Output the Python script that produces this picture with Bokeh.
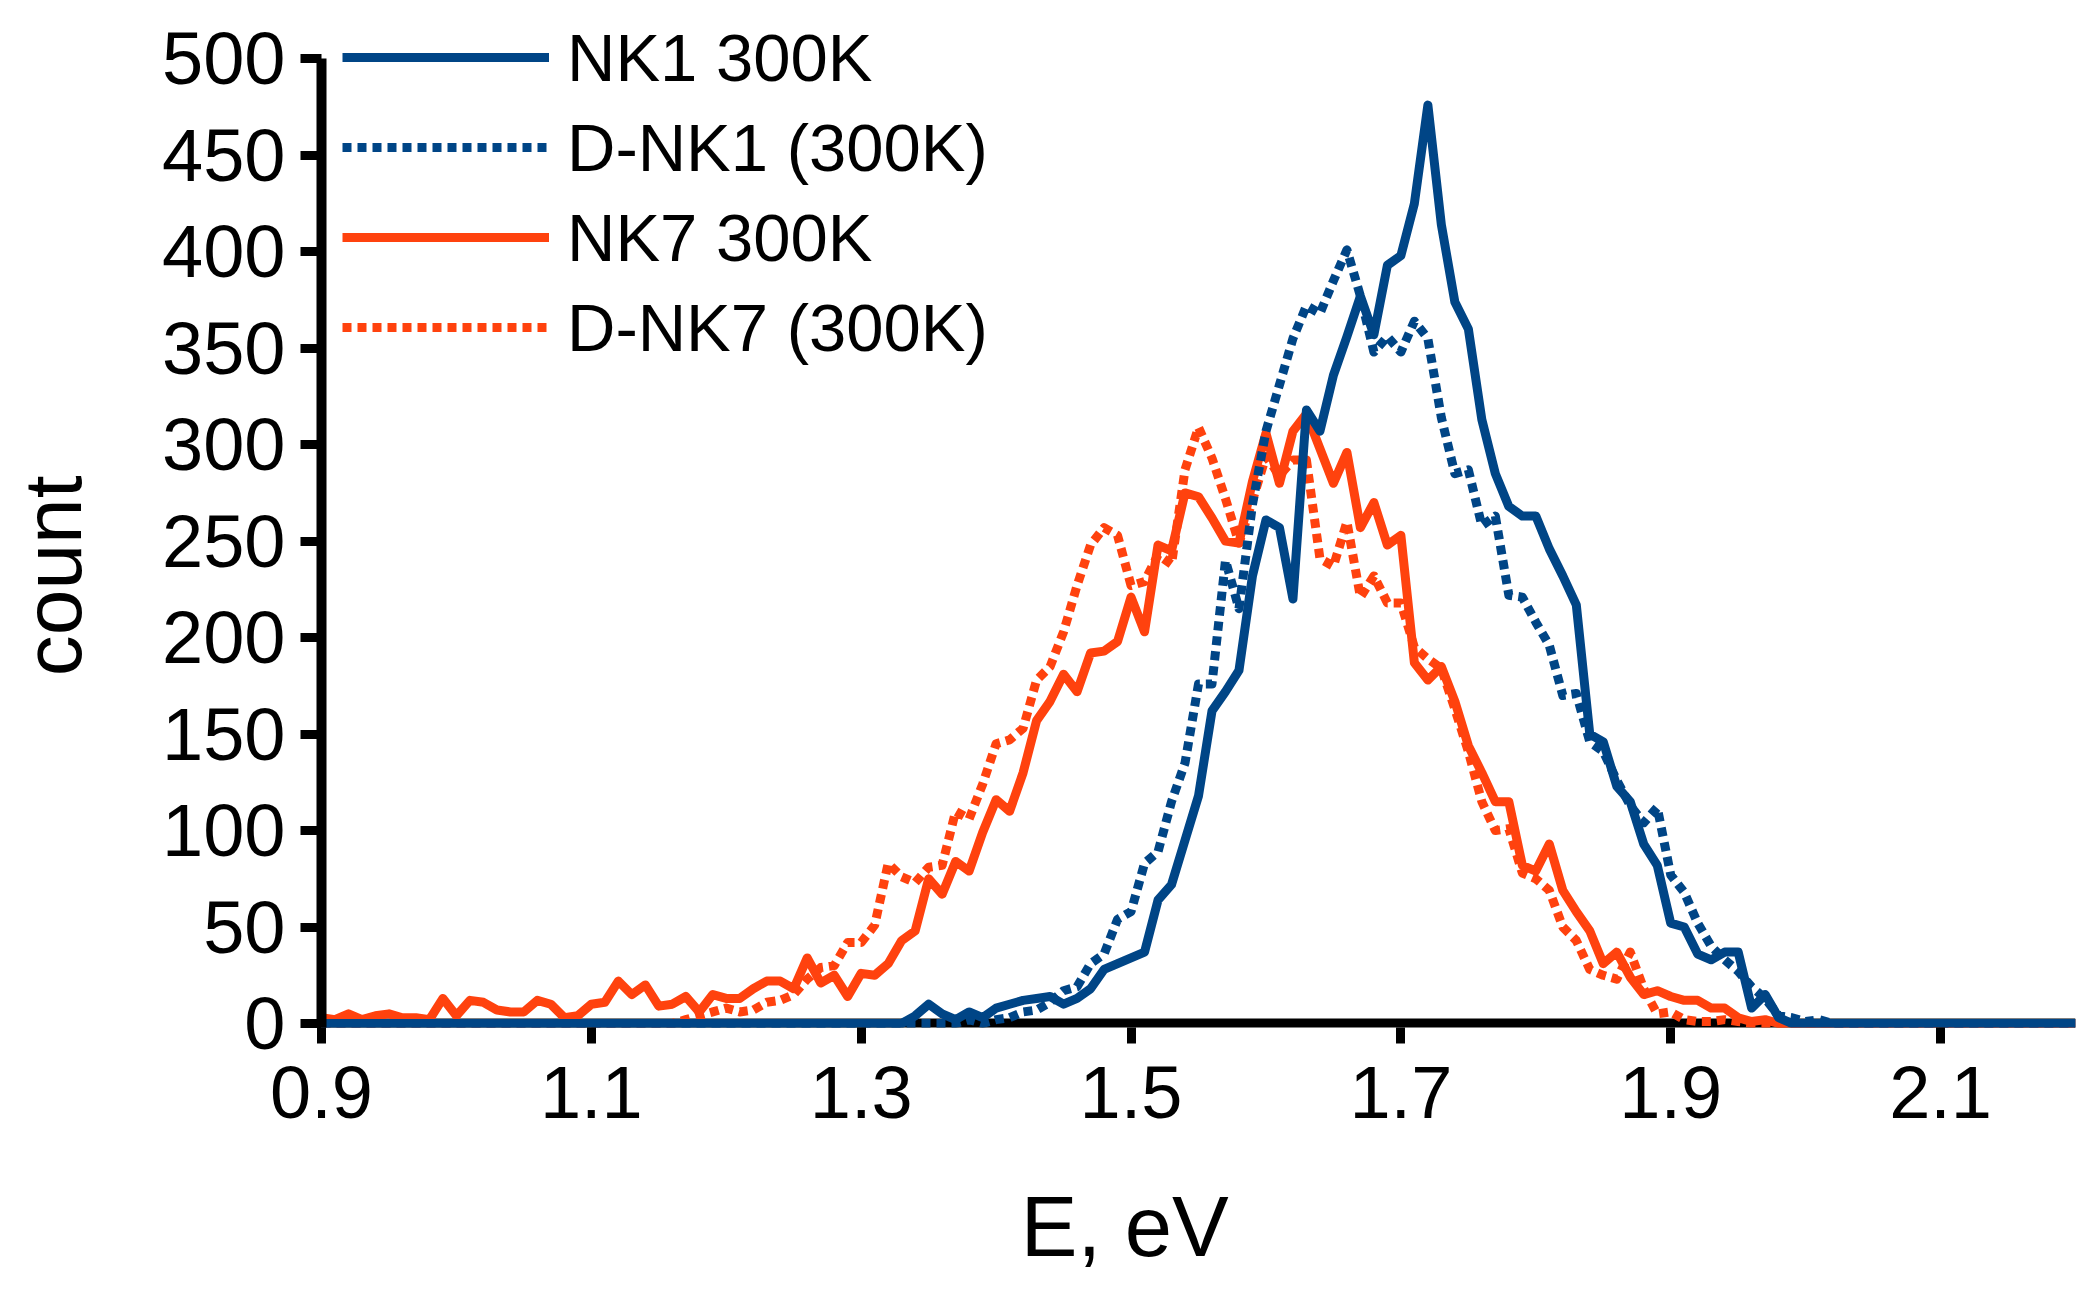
import math
from bokeh.plotting import figure
from bokeh.models import (Range1d, FixedTicker, Span, Label, Legend, LegendItem,
                          ColumnDataSource)
from bokeh.embed import file_html
from bokeh.resources import INLINE

# ---------------- data (bins of 0.01 eV, 0.90 ... 2.20) ----------------
energy = [round(0.90 + 0.01 * i, 2) for i in range(131)]

nk1_300k = [
    0, 0, 0, 0, 0, 0, 0, 0, 0, 0,            # 0.90-0.99
    0, 0, 0, 0, 0, 0, 0, 0, 0, 0,            # 1.00-1.09
    0, 0, 0, 0, 0, 0, 0, 0, 0, 0,            # 1.10-1.19
    0, 0, 0, 0, 0, 0, 0, 0, 0, 0,            # 1.20-1.29
    0, 0, 0, 0, 4, 10, 5, 2, 6, 3,           # 1.30-1.39
    8, 10, 12, 13, 14, 10, 13, 18, 28, 31,   # 1.40-1.49
    34, 37, 64, 72, 95, 118, 162, 172, 183, 232,     # 1.50-1.59
    261, 257, 220, 318, 307, 336, 356, 377, 357, 393,  # 1.60-1.69
    398, 425, 476, 414, 374, 360, 313, 285, 268, 263,  # 1.70-1.79
    263, 246, 232, 217, 150, 146, 123, 115, 93, 82,    # 1.80-1.89
    52, 50, 36, 33, 37, 37, 8, 15, 3, 0,     # 1.90-1.99
    0, 0, 0, 0, 0, 0, 0, 0, 0, 0,            # 2.00-2.09
    0, 0, 0, 0, 0, 0, 0, 0, 0, 0,            # 2.10-2.19
    0,                                       # 2.20
]

d_nk1_300k = [
    0, 0, 0, 0, 0, 0, 0, 0, 0, 0,            # 0.90-0.99
    0, 0, 0, 0, 0, 0, 0, 0, 0, 0,            # 1.00-1.09
    0, 0, 0, 0, 0, 0, 0, 0, 0, 0,            # 1.10-1.19
    0, 0, 0, 0, 0, 0, 0, 0, 0, 0,            # 1.20-1.29
    0, 0, 0, 0, 0, 0, 0, 0, 2, 0,            # 1.30-1.39
    2, 3, 6, 7, 11, 17, 19, 31, 36, 54,      # 1.40-1.49
    58, 83, 89, 115, 135, 176, 176, 240, 215, 269,     # 1.50-1.59
    307, 331, 355, 372, 368, 385, 401, 377, 348, 356,  # 1.60-1.69
    348, 364, 355, 314, 285, 287, 258, 263, 222, 221,  # 1.70-1.79
    208, 196, 170, 171, 146, 141, 126, 113, 104, 112,  # 1.80-1.89
    77, 68, 52, 40, 33, 27, 19, 13, 4, 3,    # 1.90-1.99
    1, 2, 0, 0, 0, 0, 0, 0, 0, 0,            # 2.00-2.09
    0, 0, 0, 0, 0, 0, 0, 0, 0, 0,            # 2.10-2.19
    0,                                       # 2.20
]

nk7_300k = [
    3, 2, 5, 2, 4, 5, 3, 3, 2, 13,           # 0.90-0.99
    4, 12, 11, 7, 6, 6, 12, 10, 3, 4,        # 1.00-1.09
    10, 11, 22, 15, 20, 9, 10, 14, 6, 15,    # 1.10-1.19
    13, 13, 18, 22, 22, 18, 34, 21, 25, 14,  # 1.20-1.29
    26, 25, 31, 43, 48, 75, 67, 84, 79, 99,  # 1.30-1.39
    116, 110, 130, 157, 167, 181, 172, 192, 193, 198,  # 1.40-1.49
    221, 203, 248, 245, 275, 273, 262, 250, 249, 281,  # 1.50-1.59
    306, 280, 307, 316, 298, 280, 296, 257, 270, 248,  # 1.60-1.69
    253, 187, 178, 185, 167, 144, 130, 115, 115, 82,   # 1.70-1.79
    79, 93, 69, 58, 48, 31, 37, 24, 15, 17,  # 1.80-1.89
    14, 12, 12, 8, 8, 3, 1, 2, 0, 0,         # 1.90-1.99
    0, 0, 0, 0, 0, 0, 0, 0, 0, 0,            # 2.00-2.09
    0, 0, 0, 0, 0, 0, 0, 0, 0, 0,            # 2.10-2.19
    0,                                       # 2.20
]

d_nk7_300k = [
    0, 0, 0, 0, 0, 0, 0, 0, 0, 0,            # 0.90-0.99
    0, 0, 0, 0, 0, 0, 0, 0, 0, 0,            # 1.00-1.09
    0, 0, 0, 0, 0, 0, 0, 2, 4, 6,            # 1.10-1.19
    8, 6, 7, 11, 12, 15, 23, 29, 30, 42,     # 1.20-1.29
    42, 51, 83, 76, 73, 81, 82, 110, 106, 124,         # 1.30-1.39
    145, 147, 153, 178, 185, 203, 227, 248, 257, 253,  # 1.40-1.49
    227, 229, 243, 238, 287, 309, 293, 272, 249, 271,  # 1.50-1.59
    294, 284, 292, 292, 241, 237, 260, 221, 232, 218,  # 1.60-1.69
    218, 195, 189, 184, 163, 141, 115, 100, 101, 78,   # 1.70-1.79
    75, 69, 50, 43, 28, 25, 23, 37, 18, 5,   # 1.80-1.89
    6, 2, 1, 1, 2, 1, 0, 0, 0, 0,            # 1.90-1.99
    0, 0, 0, 0, 0, 0, 0, 0, 0, 0,            # 2.00-2.09
    0, 0, 0, 0, 0, 0, 0, 0, 0, 0,            # 2.10-2.19
    0,                                       # 2.20
]

series_names = ["NK1 300K", "D-NK1 (300K)", "NK7 300K", "D-NK7 (300K)"]
x_ticks = [0.9, 1.1, 1.3, 1.5, 1.7, 1.9, 2.1]
y_ticks = [0, 50, 100, 150, 200, 250, 300, 350, 400, 450, 500]

BLUE = "#004586"
ORANGE = "#ff420e"
FONT = "Liberation Sans"

# ---------------- figure ----------------
p = figure(width=2083, height=1287, output_backend="svg", toolbar_location=None,
           x_range=Range1d(0.9, 2.2), y_range=Range1d(-2.07, 524),
           min_border_left=321, min_border_top=12, min_border_right=8,
           min_border_bottom=260)
p.outline_line_color = None
p.xgrid.visible = False
p.ygrid.visible = False
p.background_fill_color = "white"
p.border_fill_color = "white"

# x axis
xa = p.xaxis[0]
xa.ticker = FixedTicker(ticks=x_ticks)
xa.axis_line_color = None
xa.major_tick_in = 0
xa.major_tick_out = 16
xa.major_tick_line_width = 9
xa.major_tick_line_color = "black"
xa.minor_tick_line_color = None
xa.major_label_text_font = FONT
xa.major_label_text_font_size = "74px"
xa.major_label_text_color = "black"
xa.major_label_standoff = 23

# y axis
ya = p.yaxis[0]
ya.ticker = FixedTicker(ticks=y_ticks)
ya.bounds = (-2.07, 500)
ya.axis_line_width = 10
ya.axis_line_color = "black"
ya.major_tick_in = 0
ya.major_tick_out = 21
ya.major_tick_line_width = 9
ya.major_tick_line_color = "black"
ya.minor_tick_line_color = None
ya.major_label_text_font = FONT
ya.major_label_text_font_size = "74px"
ya.major_label_text_color = "black"
ya.major_label_standoff = 15

# baseline at y = 0 (below the data lines)
p.add_layout(Span(location=0, dimension="width", line_color="black",
                  line_width=10, level="underlay"))

src = ColumnDataSource(dict(E=energy, nk1=nk1_300k, dnk1=d_nk1_300k,
                            nk7=nk7_300k, dnk7=d_nk7_300k))

LW = 9
DASH = "9 6"
r_dnk7 = p.line("E", "dnk7", source=src, line_color=ORANGE, line_width=LW,
                line_dash=DASH, line_join="round")
r_nk7 = p.line("E", "nk7", source=src, line_color=ORANGE, line_width=LW,
               line_join="round")
r_dnk1 = p.line("E", "dnk1", source=src, line_color=BLUE, line_width=LW,
                line_dash=DASH, line_join="round")
r_nk1 = p.line("E", "nk1", source=src, line_color=BLUE, line_width=LW,
               line_join="round")

legend = Legend(items=[LegendItem(label=series_names[0], renderers=[r_nk1]),
                       LegendItem(label=series_names[1], renderers=[r_dnk1]),
                       LegendItem(label=series_names[2], renderers=[r_nk7]),
                       LegendItem(label=series_names[3], renderers=[r_dnk7])],
                location=(21, 655), orientation="vertical",
                glyph_width=207, glyph_height=90, label_height=90,
                label_standoff=18, spacing=0, padding=0, margin=0,
                border_line_color=None, background_fill_alpha=0,
                label_text_font=FONT, label_text_font_size="67px",
                label_text_color="black")
p.add_layout(legend)

# axis titles (placed in the side panels so they are not clipped by the frame)
p.add_layout(Label(x=0.7005, y=232, x_units="data", y_units="data",
                   text="count", angle=math.pi / 2,
                   text_align="center", text_baseline="alphabetic",
                   text_font=FONT, text_font_size="82px", text_color="black"),
             "left")
p.add_layout(Label(x=1.4953, y=-105.2, x_units="data", y_units="data",
                   text="E, eV",
                   text_align="center", text_baseline="alphabetic",
                   text_font=FONT, text_font_size="85px", text_color="black"),
             "below")

open("out.html", "w").write(file_html(p, INLINE))
